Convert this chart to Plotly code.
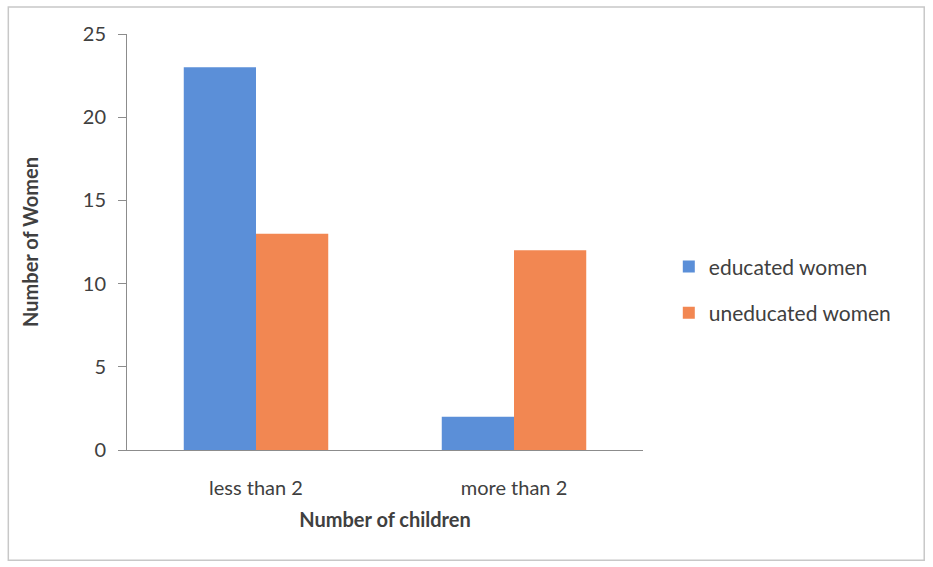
import plotly.graph_objects as go

categories = ["less than 2", "more than 2"]
educated = [23, 2]
uneducated = [13, 12]
series_names = ["educated women", "uneducated women"]

fig = go.Figure()
fig.add_trace(go.Bar(x=categories, y=educated, name=series_names[0],
                     marker=dict(color="#5b8fd8", line=dict(width=0)),
                     legendgroup="a"))
fig.add_trace(go.Bar(x=categories, y=uneducated, name=series_names[1],
                     marker=dict(color="#f28752", line=dict(width=0)),
                     legendgroup="b"))

fig.update_layout(
    width=933, height=567,
    margin=dict(l=127, r=290, t=34, b=117),
    paper_bgcolor="white", plot_bgcolor="white",
    barmode="group", bargap=0.44, bargroupgap=0,
    font=dict(family="Lato, Open Sans, sans-serif", size=20, color="#404040"),
    showlegend=True,
    legend=dict(x=1.05, y=0.385, xanchor="left", yanchor="middle",
                font=dict(size=21, color="#404040"), tracegroupgap=16,
                itemsizing="constant", bgcolor="rgba(0,0,0,0)"),
    xaxis=dict(showline=True, linecolor="#8c8c8c", linewidth=1,
               ticks="", showgrid=False, tickfont=dict(size=20),
               ticklabelstandoff=20,
               title=dict(text="<b>Number of children</b>", font=dict(size=20, color="#404040"), standoff=14)),
    yaxis=dict(range=[0, 25], tickvals=[0, 5, 10, 15, 20, 25],
               showline=True, linecolor="#8c8c8c", linewidth=1,
               ticks="outside", ticklen=8, tickcolor="#8c8c8c",
               ticklabelstandoff=8,
               showgrid=False, zeroline=False, tickfont=dict(size=20),
               title=dict(text="<b>Number of Women</b>", font=dict(size=20, color="#404040"), standoff=38)),
    shapes=[dict(type="rect", xref="paper", yref="paper",
                 x0=-0.23, x1=1.545, y0=-0.265, y1=1.065,
                 line=dict(color="#c8c8c8", width=1.5))],
)

fig.write_html("out.html")
